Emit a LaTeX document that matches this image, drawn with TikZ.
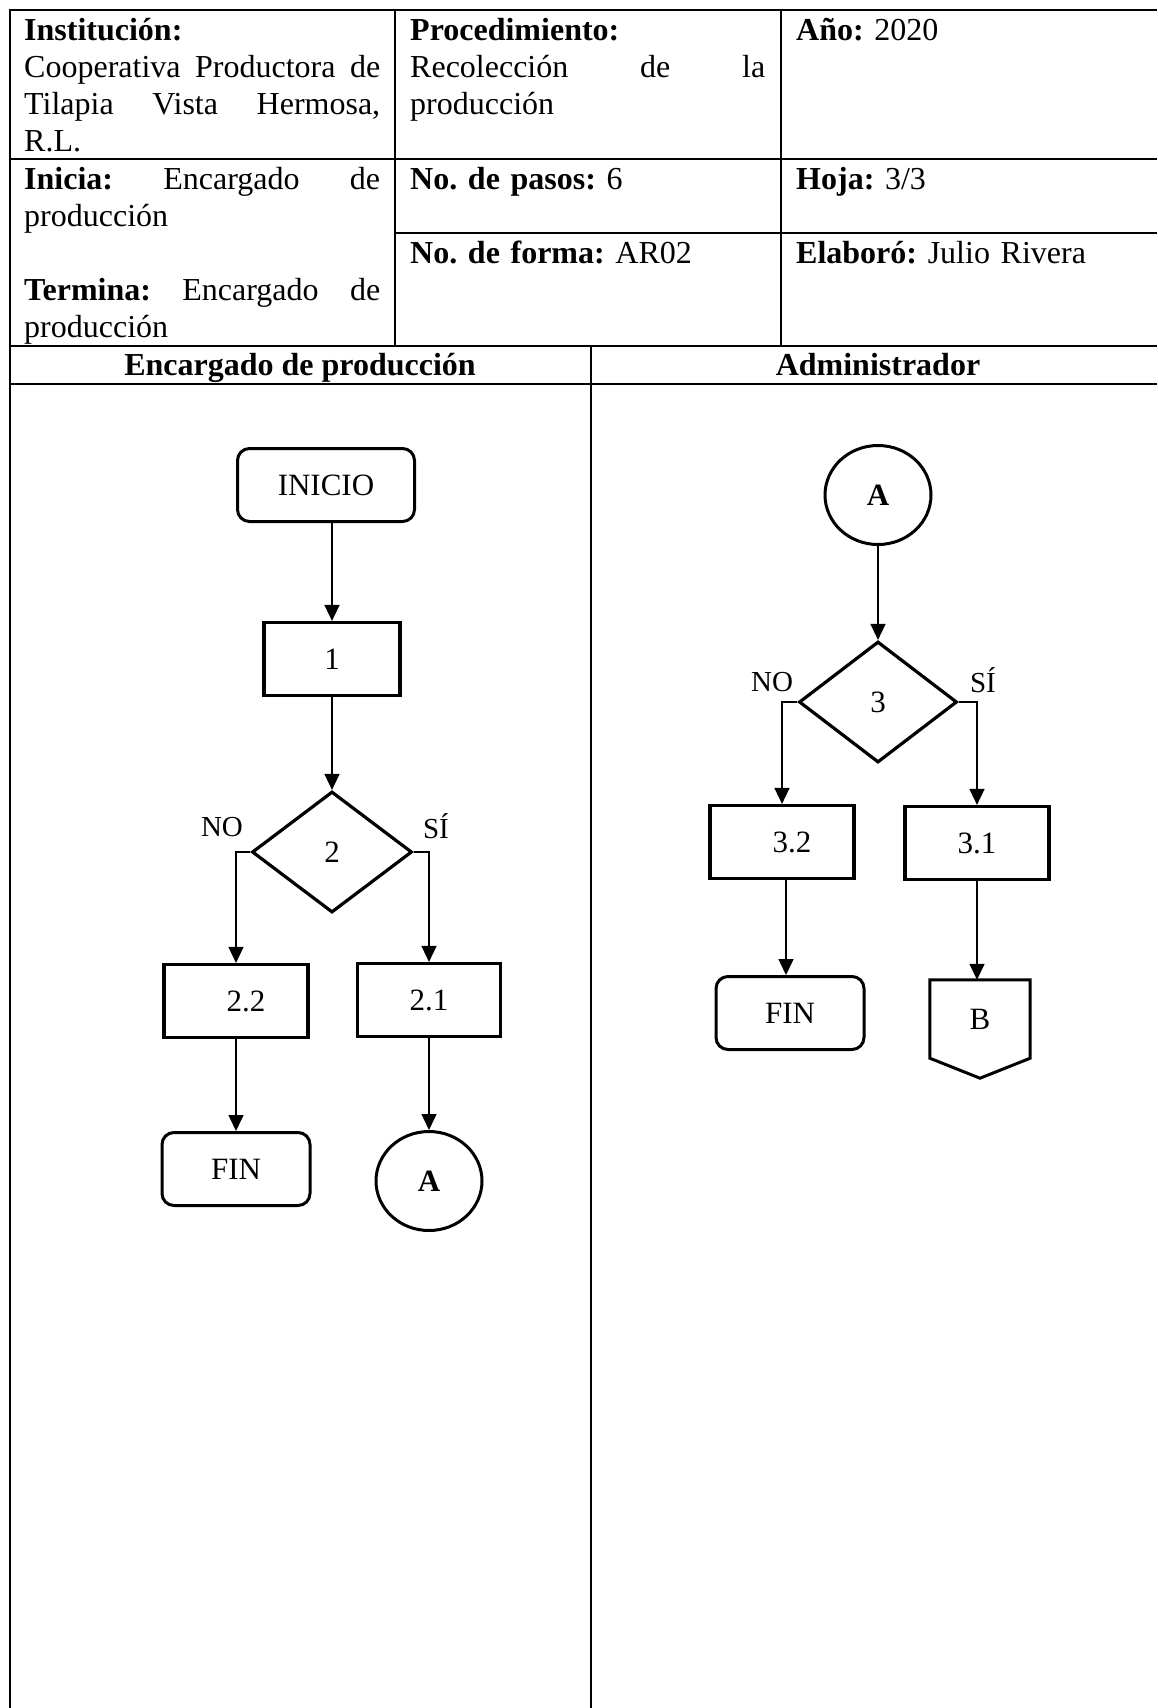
\documentclass[tikz,border=0pt]{standalone}
\usepackage{fontspec}
\setmainfont{Liberation Serif}
\usetikzlibrary{
  arrows.meta,
  positioning,
  shapes.geometric,
  calc
}

\begin{document}
\frenchspacing
\begin{tikzpicture}[
  x=1pt, y=-1pt,
  celltext/.style={
    anchor=north west,
    inner sep=0pt,
    text width=#1,
    align=left,
    font=\fontsize{32}{37}\selectfont
  },
  lanehead/.style={
    anchor=base,
    inner sep=0pt,
    font=\fontsize{32}{37}\selectfont\bfseries
  },
  gridline/.style={line width=2pt},
  termbox/.style={
    draw,
    line width=3pt,
    rounded corners=12pt,
    font=\fontsize{31}{35}\selectfont,
    minimum width=148pt,
    minimum height=73pt
  },
  procbox/.style={
    draw,
    line width=3.2pt,
    font=\fontsize{31}{35}\selectfont,
    minimum width=144pt,
    minimum height=73pt
  },
  decbox/.style={
    draw,
    diamond,
    line width=3.2pt,
    inner sep=0pt,
    font=\fontsize{31}{35}\selectfont,
    minimum width=160pt,
    minimum height=121pt
  },
  conbox/.style={
    draw,
    ellipse,
    line width=3pt,
    inner sep=0pt,
    font=\fontsize{31}{35}\selectfont\bfseries,
    minimum width=106pt,
    minimum height=99pt
  },
  flowarrow/.style={
    -{Triangle[length=16pt, width=15pt]},
    line width=1.5pt
  },
  branchlabel/.style={
    inner sep=0pt,
    font=\fontsize{29}{33}\selectfont
  }
]
  \useasboundingbox (0,0) rectangle (1157,1708);

  % Header grid
  \draw[gridline] (1157,10) -- (10,10) -- (10,1708);
  \draw[gridline] (395,10) -- (395,346);
  \draw[gridline] (781,10) -- (781,346);
  \draw[gridline] (10,159) -- (1157,159);
  \draw[gridline] (395,233) -- (1157,233);
  \draw[gridline] (10,346) -- (1157,346);
  \draw[gridline] (10,384) -- (1157,384);
  \draw[gridline] (591,346) -- (591,1708);

  % Header cells
  \node[celltext=356pt] (inst) at (24,14) {\strut\textbf{Institución:}\\
    Cooperativa\hfill Productora\hfill de\\
    Tilapia\hfill Vista\hfill Hermosa,\\
    R.L.};
  \node[celltext=355pt] (proc) at (410,14) {\strut\textbf{Procedimiento:}\\
    Recolección\hfill de\hfill la\\
    producción};
  \node[celltext=350pt] (anio) at (796,14) {\strut\textbf{Año:} 2020};
  \node[celltext=356pt] (inicia) at (24,163) {\strut\textbf{Inicia:}\hfill Encargado\hfill de\\
    producción\\[37pt]
    \textbf{Termina:}\hfill Encargado\hfill de\\
    producción};
  \node[celltext=355pt] (pasos) at (410,163) {\strut\textbf{No. de pasos:} 6};
  \node[celltext=350pt] (hoja) at (796,163) {\strut\textbf{Hoja:} 3/3};
  \node[celltext=355pt] (forma) at (410,237) {\strut\textbf{No. de forma:} AR02};
  \node[celltext=350pt] (elab) at (796,237) {\strut\textbf{Elaboró:} Julio Rivera};

  % Lane titles
  \node[lanehead] (laneEnc) at (300,375) {Encargado de producción};
  \node[lanehead] (laneAdm) at (878,375) {Administrador};

  % Encargado de produccion lane
  \node[termbox, minimum width=177pt] (inicio) at (326,485) {INICIO};
  \node[procbox, minimum width=136pt] (paso1) at (332,659) {1};
  \node[decbox] (dec2) at (332,852) {2};
  \node[procbox] (paso22) at (236,1001) {\hspace{20pt}2.2};
  \node[procbox, minimum width=143pt] (paso21) at (429,1000) {2.1};
  \node[termbox] (fin1) at (236,1169) {FIN};
  \node[conbox] (conA1) at (429,1181) {A};
  \node[branchlabel] (no2) at (222,827) {NO};
  \node[branchlabel] (si2) at (436,826) {SÍ};

  \draw[flowarrow] (inicio.south -| paso1) -- (paso1);
  \draw[flowarrow] (paso1) -- (dec2);
  \draw[flowarrow] (dec2.west) -| (paso22);
  \draw[flowarrow] (dec2.east) -| (paso21);
  \draw[flowarrow] (paso22.south) -- (paso22.south |- fin1.north);
  \draw[flowarrow] (paso21) -- (conA1);

  % Administrador lane
  \node[conbox] (conA2) at (878,495) {A};
  \node[decbox, minimum width=158pt] (dec3) at (878,702) {3};
  \node[procbox] (paso32) at (782,842) {\hspace{20pt}3.2};
  \node[procbox] (paso31) at (977,843) {3.1};
  \node[termbox] (fin2) at (790,1013) {FIN};
  \node[inner sep=0pt, minimum width=100pt, minimum height=78pt,
    font=\fontsize{31}{35}\selectfont] (offB) at (980,1019) {B};
  \draw[line width=3pt] (offB.north west) -- (offB.north east) -- (offB.south east)
    -- ([yshift=-20pt]offB.south) -- (offB.south west) -- cycle;
  \node[branchlabel] (no3) at (772,682) {NO};
  \node[branchlabel] (si3) at (983,680) {SÍ};

  \draw[flowarrow] (conA2) -- (dec3);
  \draw[flowarrow] (dec3.west) -| (paso32);
  \draw[flowarrow] (dec3.east) -| (paso31);
  \draw[flowarrow] ([xshift=4pt]paso32.south) -- ([xshift=4pt]paso32.south |- fin2.north);
  \draw[flowarrow] (paso31.south) -- (paso31.south |- offB.north);
\end{tikzpicture}
\end{document}
